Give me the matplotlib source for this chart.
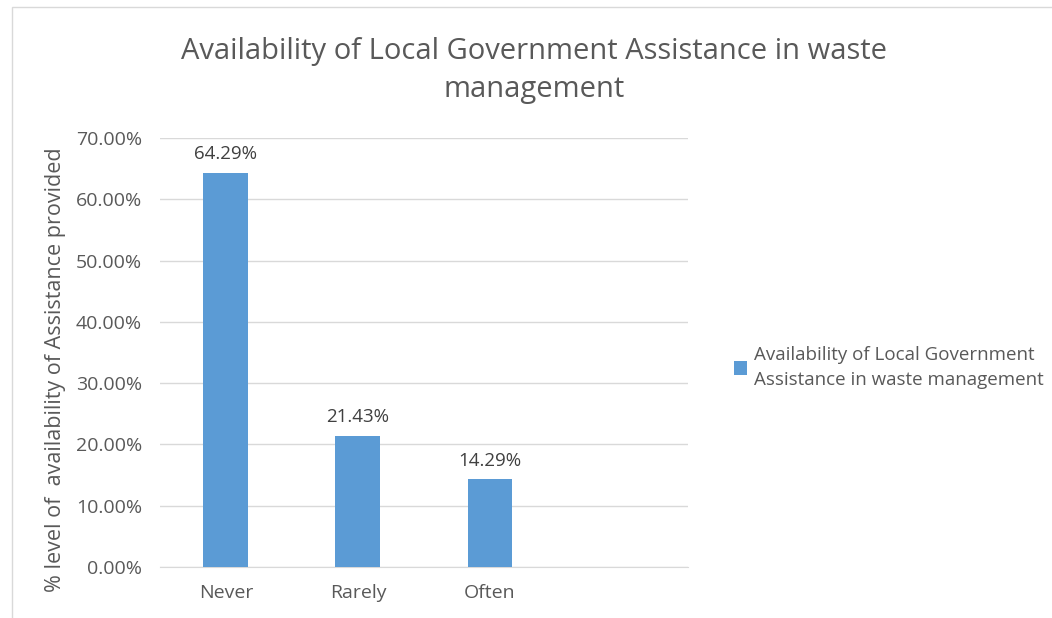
import matplotlib.pyplot as plt
from matplotlib.patches import Rectangle
from matplotlib.ticker import FuncFormatter

# data
categories = ["Never", "Rarely", "Often", ""]
values = [64.29, 21.43, 14.29, 0]
series_name = "Availability of Local Government\nAssistance in waste management"
title = "Availability of Local Government Assistance in waste\nmanagement"
ylabel = "% level of  availability of Assistance provided"

bar_color = "#5B9BD5"
text_color = "#595959"
plt.rcParams["font.family"] = ["Open Sans", "DejaVu Sans"]

fig = plt.figure(figsize=(10.52, 6.18), dpi=100)
fig.patches.append(Rectangle((0.011, -0.01), 1.0, 0.999, transform=fig.transFigure,
                             fill=False, edgecolor="#D9D9D9", linewidth=1.0))
ax = fig.add_axes([0.152, 0.0825, 0.502, 0.694])

x = list(range(len(categories)))
bars = ax.bar(x[:3], values[:3], width=0.34, color=bar_color, label=series_name, zorder=3)
ax.set_xlim(-0.5, len(categories) - 0.5)
ax.set_ylim(0, 70)
ax.set_yticks(range(0, 71, 10))
ax.yaxis.set_major_formatter(FuncFormatter(lambda v, p: f"{v:.2f}%"))
ax.set_xticks(x[:3])
ax.set_xticklabels(categories[:3])
ax.grid(axis="y", color="#D9D9D9", linewidth=1.0, zorder=0)
for s in ["top", "right", "left"]:
    ax.spines[s].set_visible(False)
ax.spines["bottom"].set_color("#D9D9D9")
ax.tick_params(length=0, labelsize=14, colors=text_color)
ax.tick_params(axis="y", pad=13)
ax.tick_params(axis="x", pad=12)

for b, v in zip(bars, values):
    ax.annotate(f"{v:.2f}%", (b.get_x() + b.get_width() / 2, v), xytext=(0, 7),
                textcoords="offset points", ha="center", va="bottom",
                fontsize=13.5, color="#404040")

ax.set_ylabel(ylabel, fontsize=15.5, color=text_color)
ax.yaxis.set_label_coords(-0.178, 0.46)
fig.suptitle(title, x=0.508, y=0.886, va="center", fontsize=21, color=text_color,
             linespacing=1.45)

leg = ax.legend(loc="center left", bbox_to_anchor=(1.055, 0.465), frameon=False,
                fontsize=13.5, handlelength=0.7, handleheight=0.7, handletextpad=0.35,
                labelcolor=text_color)
for t in leg.get_texts():
    t.set_linespacing(1.55)

fig.savefig("out.png", dpi=100)
